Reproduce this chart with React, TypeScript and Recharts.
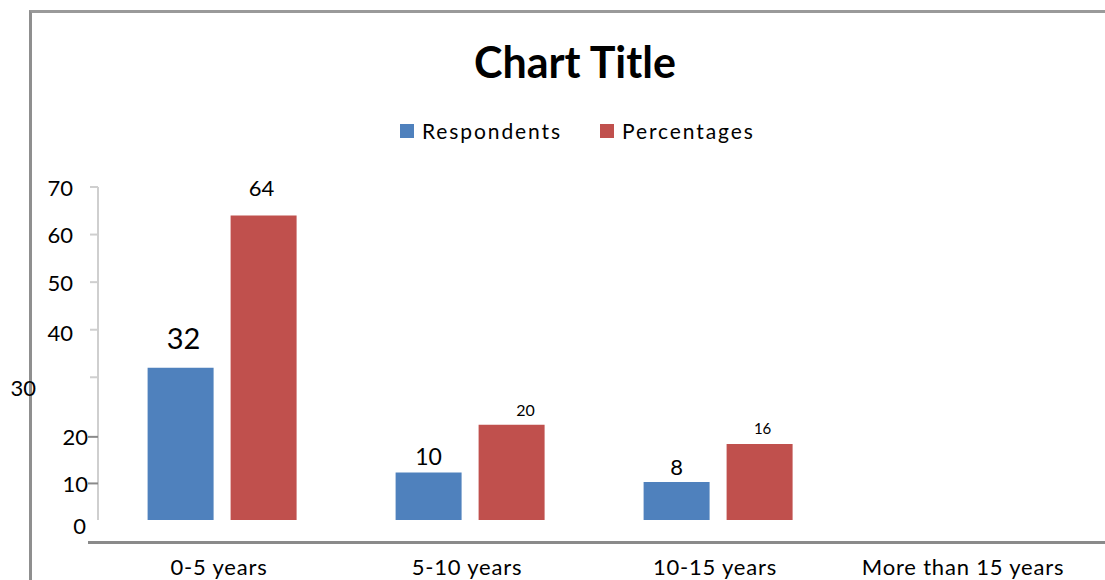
import React from 'react';
import { BarChart, Bar, XAxis, YAxis, LabelList } from 'recharts';

const categories = ['0-5 years', '5-10 years', '10-15 years', 'More than 15 years'];
const respondents = [32, 10, 8, null];
const percentages = [64, 20, 16, null];
const yTicks = [0, 10, 20, 30, 40, 50, 60, 70];

const data = categories.map((name, i) => ({
  name,
  respondents: respondents[i],
  percentages: percentages[i],
}));

const BLUE = '#4F81BD';
const RED = '#C0504D';
const FONT = 'Lato, "Open Sans", sans-serif';
const AXIS_X = 98;

// value labels were typed in by hand at uneven sizes
const labelFont: Record<string, number[]> = {
  respondents: [29, 23, 22],
  percentages: [22, 16, 15],
};
const labelShift: Record<string, number[]> = {
  respondents: [3, 0, 0],
  percentages: [-2, 14, 3],
};
const labelRaise: Record<string, number[]> = {
  respondents: [30, 16, 15],
  percentages: [28, 15, 16],
};

// hand-nudged y tick labels: [label dx, label dy, tick dy, show tick]
const tickNudge: Record<number, [number, number, number, boolean]> = {
  0: [-12, 5, 0, false],
  10: [-10, 11, 11, true],
  20: [-10, 12, 12, true],
  30: [-62, 10, 0, true],
  40: [-25, 3, 0, true],
};

function YTick(props: any) {
  const { y, payload } = props;
  const [dx, dy, tdy, showTick] = tickNudge[payload.value] ?? [-25, 0, 0, true];
  const dark = payload.value === 10 || payload.value === 20;
  return (
    <g>
      {showTick && (
        <line
          x1={AXIS_X - (dark ? 10 : 8)}
          x2={AXIS_X}
          y1={y + tdy}
          y2={y + tdy}
          stroke={dark ? '#8a8a8a' : '#cfcfcf'}
          strokeWidth={2}
        />
      )}
      <text
        x={AXIS_X + dx}
        y={y + dy}
        textAnchor="end"
        dominantBaseline="central"
        fontSize={22}
        fontFamily={FONT}
        fill="#000"
      >
        {payload.value}
      </text>
    </g>
  );
}

function XTick(props: any) {
  const { x, y, payload } = props;
  return (
    <text
      x={x - 3}
      y={y + 47}
      textAnchor="middle"
      fontSize={22}
      letterSpacing={0.8}
      fontFamily={FONT}
      fill="#000"
    >
      {payload.value}
    </text>
  );
}

function makeLabel(key: string) {
  return (props: any) => {
    const { x, y, width, index, value } = props;
    if (value == null) return null;
    return (
      <text
        x={x + width / 2 + labelShift[key][index]}
        y={y - labelRaise[key][index]}
        textAnchor="middle"
        dominantBaseline="central"
        fontSize={labelFont[key][index]}
        fontFamily={FONT}
        fill="#000"
      >
        {value}
      </text>
    );
  };
}

const legendItems = [
  { label: 'Respondents', color: BLUE },
  { label: 'Percentages', color: RED },
];

export default function App() {
  return (
    <div style={{ position: 'absolute', left: 0, top: 0, width: 1105, height: 580, overflow: 'hidden', background: '#fff' }}>
      {/* outer frame */}
      <div
        style={{
          position: 'absolute',
          left: 29,
          top: 10,
          width: 1200,
          height: 700,
          borderLeft: '3px solid #8f8f8f',
          borderTop: '3px solid #9a9a9a',
        }}
      />
      <div
        style={{
          position: 'absolute',
          left: 0,
          width: 1150,
          top: 36,
          textAlign: 'center',
          fontFamily: FONT,
          fontWeight: 700,
          fontSize: 43,
          color: '#000',
        }}
      >
        Chart Title
      </div>
      <div
        style={{
          position: 'absolute',
          top: 118,
          left: 400,
          display: 'flex',
          fontFamily: FONT,
          fontSize: 21,
          letterSpacing: 1.9,
          color: '#000',
        }}
      >
        {legendItems.map((it, i) => (
          <div key={it.label} style={{ display: 'flex', alignItems: 'center', marginLeft: i ? 38 : 0 }}>
            <span style={{ width: 14, height: 14, background: it.color, marginRight: 8, display: 'inline-block' }} />
            <span>{it.label}</span>
          </div>
        ))}
      </div>
      {/* x-axis rule */}
      <div style={{ position: 'absolute', left: 88, top: 541, width: 1100, height: 3, background: '#8a8a8a' }} />
      <BarChart
        width={1105}
        height={580}
        data={data}
        margin={{ top: 187, right: 15, bottom: 30, left: 18 }}
        barCategoryGap="20%"
        barGap={17}
        style={{ position: 'absolute', left: 0, top: 0 }}
      >
        <XAxis dataKey="name" height={30} axisLine={false} tickLine={false} tick={<XTick />} interval={0} />
        <YAxis
          width={80}
          domain={[0, 70]}
          ticks={yTicks}
          interval={0}
          axisLine={{ stroke: '#cfcfcf', strokeWidth: 2 }}
          tickLine={false}
          tick={<YTick />}
        />
        <Bar dataKey="respondents" fill={BLUE} isAnimationActive={false}>
          <LabelList dataKey="respondents" content={makeLabel('respondents')} />
        </Bar>
        <Bar dataKey="percentages" fill={RED} isAnimationActive={false}>
          <LabelList dataKey="percentages" content={makeLabel('percentages')} />
        </Bar>
      </BarChart>
    </div>
  );
}
